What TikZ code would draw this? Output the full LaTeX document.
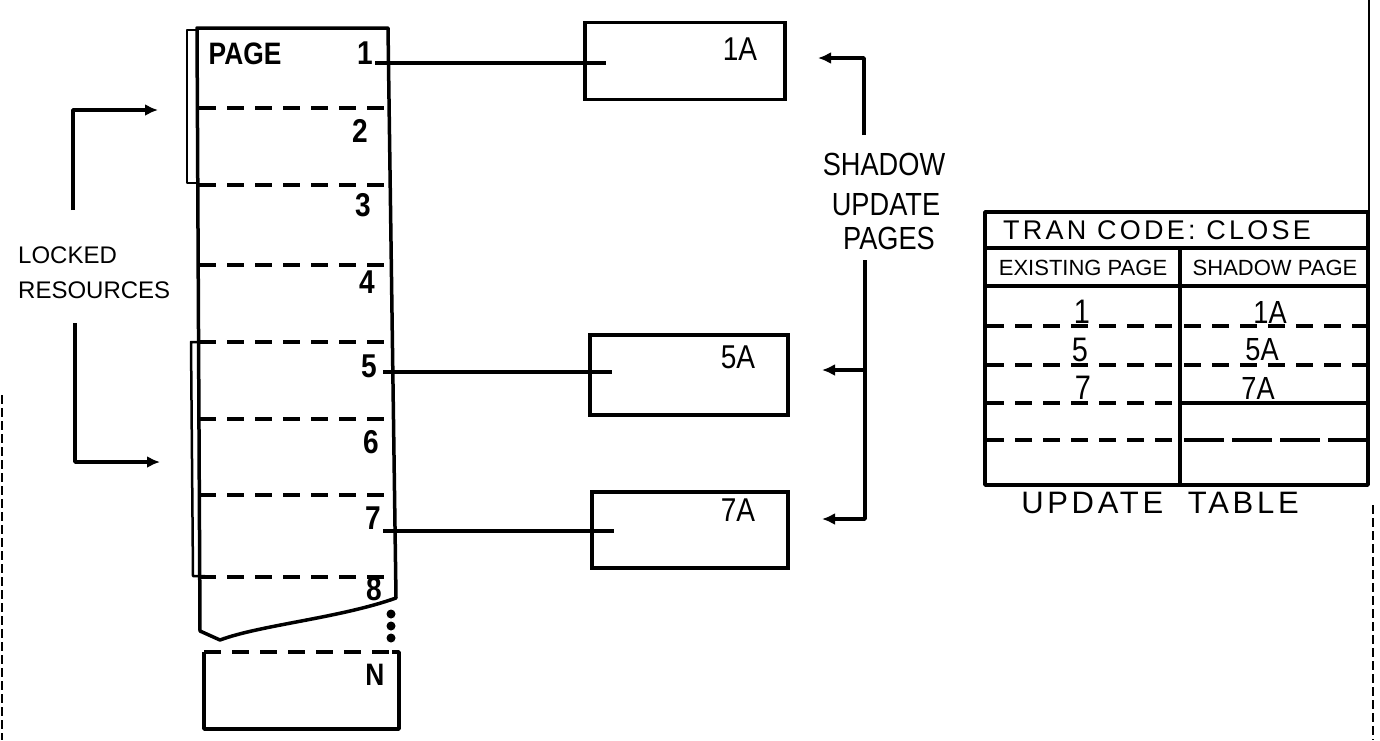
\documentclass[tikz,border=0pt]{standalone}
\usepackage{fontspec}
\setmainfont{Liberation Sans}
\newfontfamily\hw[LetterSpace=12]{Liberation Sans}
\newfontfamily\tall[FakeStretch=0.85]{Liberation Sans}
\usetikzlibrary{arrows.meta}
\begin{document}
\begin{tikzpicture}[x=1pt,y=-1pt,
  ln/.style={line width=3.5pt,line join=round},
  brk/.style={line width=2.5pt,line join=round},
  dl/.style={line width=3.5pt,dash pattern=on 17pt off 11pt},
  longdl/.style={line width=3.5pt,dash pattern=on 40pt off 8pt},
  arr/.style={line width=3.5pt,line join=round,-{Latex[length=13pt,width=12pt]}},
  tx/.style={inner sep=0pt,font=\fontsize{#1}{#1}\selectfont},
  hx/.style={inner sep=0pt,font=\hw\fontsize{#1}{#1}\selectfont},
  sx/.style={inner sep=0pt,font=\tall\fontsize{#1}{#1}\selectfont},
  bx/.style={inner sep=0pt,font=\tall\bfseries\fontsize{#1}{#1}\selectfont},
  pbox/.style={draw,line width=3.5pt,inner sep=0pt},
  scan/.style={line width=1.2pt,dash pattern=on 9pt off 4pt}]
\useasboundingbox (0,0) rectangle (1380,740);

% ---- scan edges
\draw[line width=2pt] (1369,0) -- (1369,212);
\draw[scan] (1373,505) -- (1373,740);
\draw[scan] (2,395) -- (2,740);

% ---- page column
\draw[ln] (197,28) -- (388,28) -- (396,598)
  .. controls (340,618) and (260,625) .. (220,640) -- (200,631) -- cycle;
\draw[brk] (198,183) -- (187,183) -- (187,30) -- (197,30);
\draw[brk] (198,342) -- (191,342) -- (193,576) -- (205,576);
\foreach \yy in {108,185,265,342,419,495,577}
  \draw[dl] (199,\yy) -- (390,\yy);
\foreach \yy in {614,626,638}
  \fill (391,\yy) circle (4.5);
\draw[ln] (392,652) -- (399,652) -- (399,729) -- (204,729) -- (204,652);
\draw[dl] (204,652) -- (392,652);

\node[bx=31] (pg) at (245,54) {PAGE};
\node[bx=33] (n1) at (365,53) {1};
\node[bx=33] (n2) at (360,131) {2};
\node[bx=33] (n3) at (363,205) {3};
\node[bx=33] (n4) at (367,282) {4};
\node[bx=33] (n5) at (369,366) {5};
\node[bx=33] (n6) at (371,442) {6};
\node[bx=33] (n7) at (373,518) {7};
\node[bx=33] (n8) at (374,589) {8};
\node[bx=31] (nN) at (375,675) {N};

% ---- shadow boxes
\node[pbox,minimum width=200pt,minimum height=77pt] (b1) at (685,61) {};
\node[pbox,minimum width=198pt,minimum height=80pt] (b5) at (689,375) {};
\node[pbox,minimum width=196pt,minimum height=76pt] (b7) at (690,530) {};
\node[sx=33] (l1) at (740,49) {1A};
\node[sx=33] (l5) at (738,357) {5A};
\node[sx=33] (l7) at (738,510) {7A};

\coordinate (s1) at (375,63);  \coordinate (e1) at (606,63);
\coordinate (s5) at (383,372); \coordinate (e5) at (612,372);
\coordinate (s7) at (383,531); \coordinate (e7) at (614,531);
\draw[ln] (s1) -- (e1);
\draw[ln] (s5) -- (e5);
\draw[ln] (s7) -- (e7);

% ---- shadow update pages bracket
\node[sx=32] (sh1) at (884,164) {SHADOW};
\node[sx=32] (sh2) at (886,205) {UPDATE};
\node[sx=32] (sh3) at (889,238) {PAGES};
\coordinate (rt) at (864,135); \coordinate (a1) at (818,58);
\coordinate (rb) at (865,260); \coordinate (a7) at (822,519);
\coordinate (j5) at (865,370); \coordinate (a5) at (822,370);
\draw[arr] (rt) |- (a1);
\draw[arr] (rb) |- (a7);
\draw[arr] (j5) -- (a5);

% ---- locked resources bracket
\node[tx=24,anchor=west] (lk1) at (18,255) {LOCKED};
\node[tx=24,anchor=west] (lk2) at (18,290) {RESOURCES};
\coordinate (lt) at (73,210); \coordinate (la) at (158,110);
\coordinate (lb) at (75,323); \coordinate (lc) at (160,462);
\draw[arr] (lt) |- (la);
\draw[arr] (lb) |- (lc);

% ---- update table
\draw[ln] (985,212) rectangle (1368,485);
\draw[ln] (985,248) -- (1368,248);
\draw[ln] (985,286) -- (1368,286);
\draw[ln] (1180,248) -- (1180,485);
\draw[dl] (987,326) -- (1178,326);
\draw[dl] (1184,326) -- (1366,326);
\draw[dl] (987,365) -- (1178,365);
\draw[dl] (1184,365) -- (1366,365);
\draw[dl] (987,403) -- (1178,403);
\draw[ln] (1182,403) -- (1366,403);
\draw[dl] (987,440) -- (1178,440);
\draw[longdl] (1184,440) -- (1366,440);

\node[hx=27] (tc) at (1157,230) {TRAN CODE: CLOSE};
\node[tx=22] (hE) at (1083,268) {EXISTING PAGE};
\node[tx=22] (hS) at (1275,268) {SHADOW PAGE};
\node[sx=34] (r1) at (1082,312) {1};
\node[sx=34] (r5) at (1080,350) {5};
\node[sx=34] (r7) at (1083,388) {7};
\node[sx=32] (r1a) at (1270,312) {1A};
\node[sx=32] (r5a) at (1262,350) {5A};
\node[sx=32] (r7a) at (1258,388) {7A};
\node[hx=31] (ut) at (1160,503) {UPDATE\ \ TABLE};
\end{tikzpicture}
\end{document}
